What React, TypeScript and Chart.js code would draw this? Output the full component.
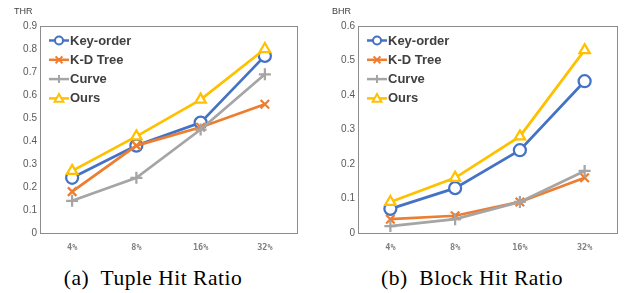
import React, { useEffect, useRef } from "react";
import { Chart, registerables } from "chart.js";

Chart.register(...registerables);

const categories = ["4%", "8%", "16%", "32%"];
const seriesNames = ["Key-order", "K-D Tree", "Curve", "Ours"];

const thrKeyOrder = [0.24, 0.38, 0.48, 0.77];
const thrKDTree = [0.18, 0.38, 0.46, 0.56];
const thrCurve = [0.14, 0.24, 0.45, 0.69];
const thrOurs = [0.27, 0.42, 0.58, 0.8];

const bhrKeyOrder = [0.07, 0.13, 0.24, 0.44];
const bhrKDTree = [0.04, 0.05, 0.09, 0.16];
const bhrCurve = [0.02, 0.04, 0.09, 0.18];
const bhrOurs = [0.09, 0.16, 0.28, 0.53];

const colors = ["#4472C4", "#ED7D31", "#A5A5A5", "#FFC000"];
const pointStyles = ["circle", "crossRot", "cross", "triangle"];

function drawMarker(ctx: CanvasRenderingContext2D, style: string, x: number, y: number, r: number, color: string) {
  ctx.save();
  ctx.strokeStyle = color;
  ctx.fillStyle = "#ffffff";
  ctx.lineWidth = 2;
  ctx.beginPath();
  if (style === "circle") {
    ctx.arc(x, y, r, 0, Math.PI * 2);
    ctx.fill();
    ctx.stroke();
  } else if (style === "crossRot") {
    const d = r * 0.85;
    ctx.moveTo(x - d, y - d);
    ctx.lineTo(x + d, y + d);
    ctx.moveTo(x + d, y - d);
    ctx.lineTo(x - d, y + d);
    ctx.stroke();
  } else if (style === "cross") {
    ctx.moveTo(x - r, y);
    ctx.lineTo(x + r, y);
    ctx.moveTo(x, y - r);
    ctx.lineTo(x, y + r);
    ctx.stroke();
  } else {
    const h = r * 1.1;
    ctx.moveTo(x, y - h);
    ctx.lineTo(x + h, y + h * 0.75);
    ctx.lineTo(x - h, y + h * 0.75);
    ctx.closePath();
    ctx.fill();
    ctx.stroke();
  }
  ctx.restore();
}

function makeChart(
  canvas: HTMLCanvasElement,
  axisTitle: string,
  series: number[][],
  yMax: number,
  yAxisWidth: number,
  padRight: number
) {
  const decor = {
    id: "decor",
    beforeDatasetsDraw(chart: any) {
      const { ctx, chartArea } = chart;
      ctx.save();
      ctx.strokeStyle = "#8c8c8c";
      ctx.lineWidth = 1;
      ctx.strokeRect(
        Math.round(chartArea.left) + 0.5,
        Math.round(chartArea.top) + 0.5,
        Math.round(chartArea.right - chartArea.left),
        Math.round(chartArea.bottom - chartArea.top)
      );
      ctx.restore();
    },
    afterDraw(chart: any) {
      const { ctx, chartArea } = chart;
      ctx.save();
      // axis title
      ctx.fillStyle = "#404040";
      ctx.font = "9px 'Liberation Sans', Arial, sans-serif";
      ctx.textAlign = "left";
      ctx.textBaseline = "middle";
      ctx.fillText(axisTitle, chartArea.left - 26, 12);
      // legend
      ctx.font = "bold 13px 'Liberation Sans', Arial, sans-serif";
      ctx.textBaseline = "middle";
      for (let i = 0; i < seriesNames.length; i++) {
        const y = chartArea.top + 14.5 + i * 19.3;
        const x0 = chartArea.left + 9;
        const x1 = chartArea.left + 29;
        ctx.strokeStyle = colors[i];
        ctx.lineWidth = 2.5;
        ctx.beginPath();
        ctx.moveTo(x0, y);
        ctx.lineTo(x1, y);
        ctx.stroke();
        drawMarker(ctx, pointStyles[i], (x0 + x1) / 2, y, 4, colors[i]);
        ctx.fillStyle = "#404040";
        ctx.fillText(seriesNames[i], x1 + 1, y + 0.5);
      }
      ctx.restore();
    },
  };

  return new Chart(canvas, {
    type: "line",
    data: {
      labels: categories,
      datasets: series.map((d, i) => ({
        label: seriesNames[i],
        data: d,
        borderColor: colors[i],
        backgroundColor: "#ffffff",
        borderWidth: 2.75,
        pointStyle: pointStyles[i] as any,
        pointRadius: 6,
        pointBorderWidth: 2.25,
        pointBackgroundColor: "#ffffff",
        pointBorderColor: colors[i],
        tension: 0,
        fill: false,
        order: series.length - i,
      })),
    },
    options: {
      animation: false,
      responsive: false,
      maintainAspectRatio: false,
      layout: { padding: { left: 0, right: padRight, top: 26, bottom: 0 } },
      plugins: { legend: { display: false }, tooltip: { enabled: false }, title: { display: false } },
      scales: {
        x: {
          offset: true,
          grid: { display: false, drawTicks: false, tickLength: 0 },
          border: { display: false },
          ticks: {
            color: "#7f7f7f",
            font: { family: "'DejaVu Sans Mono', monospace", size: 8.5, weight: "bold" },
            padding: 9.5,
            maxRotation: 0,
          },
          afterFit(scale: any) {
            scale.height = 22;
          },
        },
        y: {
          min: 0,
          max: yMax,
          grid: { display: false, drawTicks: false, tickLength: 0 },
          border: { display: false },
          ticks: {
            stepSize: 0.1,
            color: "#595959",
            font: { family: "'Liberation Sans', Arial, sans-serif", size: 10 },
            padding: 3,
            callback: (v: any) => (Number(v) === 0 ? "0" : Number(v).toFixed(1)),
          },
          afterFit(scale: any) {
            scale.width = yAxisWidth;
          },
        },
      },
    },
    plugins: [decor],
  });
}

export default function App() {
  const refA = useRef<HTMLCanvasElement>(null);
  const refB = useRef<HTMLCanvasElement>(null);

  useEffect(() => {
    const a = makeChart(refA.current!, "THR", [thrKeyOrder, thrKDTree, thrCurve, thrOurs], 0.9, 40, 18);
    const b = makeChart(refB.current!, "BHR", [bhrKeyOrder, bhrKDTree, bhrCurve, bhrOurs], 0.6, 43, 14);
    return () => {
      a.destroy();
      b.destroy();
    };
  }, []);

  const captionStyle: React.CSSProperties = {
    position: "absolute",
    top: 268,
    width: 260,
    textAlign: "center",
    fontFamily: "'Liberation Serif', 'Times New Roman', serif",
    fontSize: 21.5,
    letterSpacing: "0.5px",
    lineHeight: "21px",
    color: "#000",
    whiteSpace: "pre",
  };

  return (
    <div style={{ position: "absolute", left: 0, top: 0, width: 631, height: 293, background: "#fff", overflow: "hidden" }}>
      <canvas ref={refA} width={315} height={255} style={{ position: "absolute", left: 0, top: 0, width: 315, height: 255 }} />
      <canvas ref={refB} width={316} height={255} style={{ position: "absolute", left: 315, top: 0, width: 316, height: 255 }} />
      <div style={{ ...captionStyle, left: 153 - 130 }}>(a)  Tuple Hit Ratio</div>
      <div style={{ ...captionStyle, left: 472 - 130 }}>(b)  Block Hit Ratio</div>
    </div>
  );
}
